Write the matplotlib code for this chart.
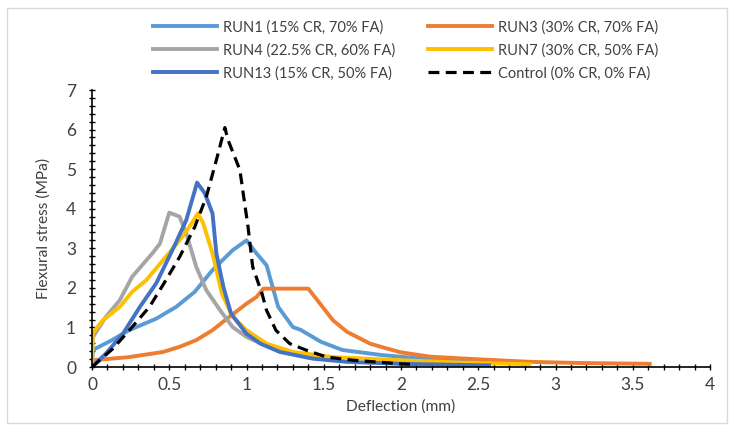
import numpy as np
import matplotlib.pyplot as plt
from matplotlib.patches import Rectangle
from matplotlib.ticker import MultipleLocator

plt.rcParams['font.family'] = ['Lato', 'DejaVu Sans']

# RUN1 (15% CR, 70% FA)
run1_x = [0, 0.005, 0.13, 0.24, 0.415, 0.545, 0.665, 0.78, 0.91, 1.0, 1.065, 1.13, 1.205,
          1.30, 1.35, 1.48, 1.62, 1.88, 2.2, 2.55]
run1_y = [0, 0.43, 0.68, 0.93, 1.22, 1.52, 1.9, 2.45, 2.95, 3.2, 2.87, 2.57, 1.52,
          1.01, 0.94, 0.64, 0.43, 0.30, 0.19, 0.1]

# RUN3 (30% CR, 70% FA)
run3_x = [0, 0.005, 0.24, 0.46, 0.567, 0.675, 0.78, 0.89, 1.0, 1.065, 1.11, 1.40, 1.476,
          1.56, 1.65, 1.80, 1.87, 2.0, 2.19, 2.52, 2.84, 3.17, 3.61]
run3_y = [0, 0.17, 0.25, 0.38, 0.51, 0.68, 0.93, 1.27, 1.6, 1.77, 1.98, 1.98, 1.6,
          1.18, 0.89, 0.59, 0.51, 0.37, 0.26, 0.19, 0.13, 0.10, 0.08]

# RUN4 (22.5% CR, 60% FA)
run4_x = [0, 0.005, 0.09, 0.18, 0.26, 0.39, 0.44, 0.50, 0.567, 0.61, 0.675, 0.74, 0.83,
          0.91, 1.0, 1.15, 1.35, 1.6]
run4_y = [0, 0.75, 1.27, 1.69, 2.28, 2.87, 3.12, 3.9, 3.8, 3.38, 2.53, 1.94, 1.43,
          1.01, 0.76, 0.5, 0.3, 0.18]

# RUN7 (30% CR, 50% FA)
run7_x = [0, 0.005, 0.07, 0.18, 0.26, 0.35, 0.46, 0.567, 0.63, 0.686, 0.72, 0.78, 0.84,
          0.91, 1.0, 1.13, 1.30, 1.56, 2.0, 2.4, 2.83]
run7_y = [0, 0.86, 1.18, 1.52, 1.9, 2.19, 2.7, 3.2, 3.54, 3.88, 3.63, 2.87, 1.86,
          1.27, 0.93, 0.59, 0.38, 0.25, 0.17, 0.11, 0.07]

# RUN13 (15% CR, 50% FA)
run13_x = [0, 0.09, 0.2, 0.31, 0.415, 0.52, 0.61, 0.68, 0.73, 0.78, 0.805, 0.85, 0.90,
           1.0, 1.09, 1.216, 1.43, 1.65, 2.0, 2.57]
run13_y = [0, 0.34, 0.84, 1.52, 2.11, 2.95, 3.71, 4.66, 4.39, 3.88, 2.87, 2.03, 1.35,
           0.84, 0.59, 0.38, 0.21, 0.13, 0.08, 0.04]

# Control (0% CR, 0% FA)
ctrl_x = [0, 0.134, 0.242, 0.372, 0.459, 0.567, 0.665, 0.74, 0.805, 0.86, 0.88, 0.957,
          1.01, 1.04, 1.10, 1.13, 1.19, 1.28, 1.39, 1.52, 1.69, 2.0, 2.1]
ctrl_y = [0, 0.46, 0.93, 1.52, 2.07, 2.78, 3.54, 4.30, 5.23, 6.05, 5.74, 4.98,
          3.54, 2.53, 1.86, 1.43, 0.93, 0.59, 0.42, 0.25, 0.17, 0.08, 0.06]

fig = plt.figure(figsize=(7.34, 4.33), dpi=100)
fig.patches.append(Rectangle((7 / 734, 10 / 433), 720 / 734, 415 / 433,
                             transform=fig.transFigure, fill=False,
                             edgecolor='#d9d9d9', lw=1))
ax = fig.add_axes([92 / 734, 66 / 433, 618 / 734, 277 / 433])

lw = 2.8
l1, = ax.plot(run1_x, run1_y, color='#5B9BD5', lw=lw, label='RUN1 (15% CR, 70% FA)')
l3, = ax.plot(run3_x, run3_y, color='#ED7D31', lw=lw, label='RUN3 (30% CR, 70% FA)')
l4, = ax.plot(run4_x, run4_y, color='#A5A5A5', lw=lw, label='RUN4 (22.5% CR, 60% FA)')
l7, = ax.plot(run7_x, run7_y, color='#FFC000', lw=lw, label='RUN7 (30% CR, 50% FA)')
l13, = ax.plot(run13_x, run13_y, color='#4472C4', lw=lw, label='RUN13 (15% CR, 50% FA)')
lc, = ax.plot(ctrl_x, ctrl_y, color='black', lw=2.3, ls=(0, (3.4, 2.0)),
              label='Control (0% CR, 0% FA)')

ax.set_xlim(0, 4)
ax.set_ylim(0, 7)
ax.xaxis.set_minor_locator(MultipleLocator(0.1))
ax.yaxis.set_major_locator(MultipleLocator(1))
ax.yaxis.set_minor_locator(MultipleLocator(0.2))
ax.set_xticks([0, 0.5, 1, 1.5, 2, 2.5, 3, 3.5, 4])
ax.set_xticklabels(['0', '0.5', '1', '1.5', '2', '2.5', '3', '3.5', '4'])
ax.tick_params(which='both', direction='inout', length=5, width=1, colors='black',
               labelsize=12.5, labelcolor='#404040')
ax.tick_params(axis='x', which='both', pad=5)
ax.tick_params(axis='y', which='both', pad=9)
for s in ['top', 'right']:
    ax.spines[s].set_visible(False)
for s in ['left', 'bottom']:
    ax.spines[s].set_linewidth(1.2)

ax.set_xlabel('Deflection (mm)', fontsize=11.2, color='#404040', labelpad=4)
ax.set_ylabel('Flexural stress (MPa)', fontsize=11.2, color='#404040', labelpad=11)

# two legend columns, placed separately as in the reference
leg_kw = dict(loc='upper left', frameon=False, fontsize=10.5, handlelength=4.4,
              handletextpad=0.4, labelspacing=0.6, borderpad=0, borderaxespad=0,
              labelcolor='#404040')
for hs, x0 in [([l1, l4, l13], 153), ([l3, l7, lc], 428)]:
    fig.legend(handles=hs, labels=[h.get_label() for h in hs],
               bbox_to_anchor=(x0 / 734, 1 - 20 / 433), **leg_kw)

fig.savefig('out.png', dpi=100)
